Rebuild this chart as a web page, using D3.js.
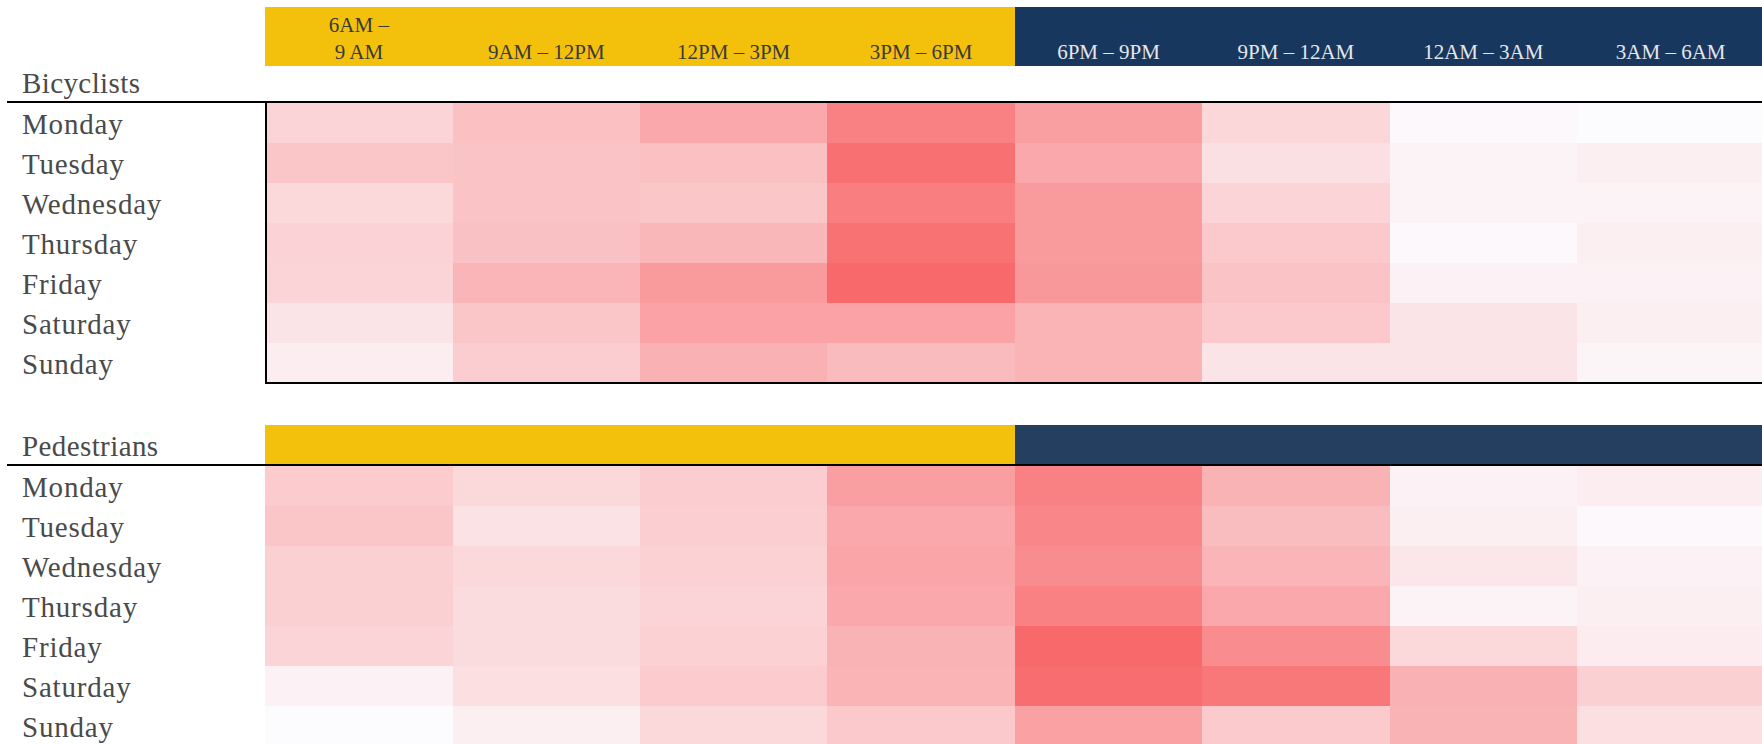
<!DOCTYPE html>
<html>
<head>
<meta charset="utf-8">
<script src="https://cdn.jsdelivr.net/npm/d3@7"></script>
<style>
	body { margin:0; background:#fff; overflow:hidden; }
	svg { display:block; }
</style>
</head>
<body>
<div id="heatmap"></div>
<script>
(function(){

var width = 1762,
	height = 744;

// time slots (columns), first one is wrapped on two lines

var slots = ["6AM – 9 AM","9AM – 12PM","12PM – 3PM","3PM – 6PM","6PM – 9PM","9PM – 12AM","12AM – 3AM","3AM – 6AM"];
var slotlines = [["6AM –","9 AM"],["9AM – 12PM"],["12PM – 3PM"],["3PM – 6PM"],["6PM – 9PM"],["9PM – 12AM"],["12AM – 3AM"],["3AM – 6AM"]];
var daytime = [true,true,true,true,false,false,false,false];

var days = ["Monday","Tuesday","Wednesday","Thursday","Friday","Saturday","Sunday"];

// relative crash intensity per day and time slot (0 = lowest, 100 = highest)

var bicyclists = [
	[27,41,57,84,63,25,3,0],
	[37,38,41,95,57,19,6,9],
	[24,38,37,86,67,27,6,6],
	[28,40,47,94,66,35,3,9],
	[27,48,67,100,68,38,7,7],
	[16,37,61,61,49,35,16,9],
	[10,32,51,44,49,16,16,5]
];

var pedestrians = [
	[33,24,32,63,84,50,7,10],
	[37,18,31,57,80,43,9,3],
	[30,24,29,59,76,48,15,7],
	[30,22,27,57,84,57,6,9],
	[27,22,29,50,100,76,24,11],
	[7,20,33,49,97,90,51,30],
	[0,9,24,35,62,34,50,20]
];

var tables = [
	{name:"Bicyclists", values:bicyclists, band:7, bandh:58.7, labels:true, box:true, line:102, yellow:"#F3C10C", navy:"#17375E"},
	{name:"Pedestrians", values:pedestrians, band:424.5, bandh:39.5, labels:false, box:false, line:465, yellow:"#F3C10C", navy:"#243F60"}
];

var x0 = 265.2,
	cw = 187.4,
	rh = 40,
	labelfont = "'Liberation Serif', 'Times New Roman', serif",
	textcolor = "#4A4A4A";

// scales

var X = d3.scaleBand().domain(slots).range([x0, x0 + cw * slots.length]);
var Y = d3.scaleBand().domain(days).range([0, rh * days.length]);
var C = d3.scaleLinear().domain([0,100]).range(["#FCFCFF","#F8696B"]).interpolate(d3.interpolateRgb);

var svg = d3.select("#heatmap").append("svg")
	.attr("width",width)
	.attr("height",height)
	.style("font-family",labelfont);

tables.forEach(function(tb){

	var top = tb.line + 1;

	// coloured header band, yellow for daytime, navy for night

	svg.selectAll(null).data(slots).enter().append("rect")
		.attr("x",function(d){return X(d)})
		.attr("y",tb.band)
		.attr("width",X.bandwidth() + 0.5)
		.attr("height",tb.bandh)
		.attr("shape-rendering","crispEdges")
		.style("fill",function(d,i){return daytime[i] ? tb.yellow : tb.navy});

	if (tb.labels) {
		var hl = svg.selectAll(null).data(slots).enter().append("text")
			.attr("text-anchor","middle")
			.attr("font-size",21)
			.style("fill",function(d,i){return daytime[i] ? "#3A3A3A" : "#E6E6EA"});
		hl.selectAll("tspan").data(function(d,i){return slotlines[i].map(function(s){return {s:s, col:d, n:slotlines[i].length}})})
			.enter().append("tspan")
			.attr("x",function(d){return X(d.col) + X.bandwidth() / 2})
			.attr("y",function(d,j){return 59.3 - (d.n - 1 - j) * 27})
			.text(function(d){return d.s});
	}

	// table title

	svg.append("text")
		.attr("x",22)
		.attr("y",tb.line - 9)
		.attr("font-size",29)
		.attr("letter-spacing",0.4)
		.style("fill",textcolor)
		.text(tb.name);

	// cells

	var g = svg.append("g").attr("transform","translate(0," + top + ")");

	var rows = g.selectAll(".row").data(tb.values).enter().append("g")
		.attr("transform",function(d,i){return "translate(0," + Y(days[i]) + ")"});

	rows.selectAll("rect").data(function(d){return d}).enter().append("rect")
		.attr("x",function(d,i){return X(slots[i])})
		.attr("y",0)
		.attr("width",X.bandwidth() + 0.5)
		.attr("height",Y.bandwidth() + 0.5)
		.attr("shape-rendering","crispEdges")
		.style("fill",function(d){return C(d)});

	// day labels

	g.selectAll(".day").data(days).enter().append("text")
		.attr("x",22)
		.attr("y",function(d){return Y(d) + Y.bandwidth() / 2 + 11})
		.attr("font-size",29)
		.attr("letter-spacing",0.8)
		.style("fill",textcolor)
		.text(function(d){return d});

	// rules

	svg.append("line")
		.attr("x1",7).attr("x2",width)
		.attr("y1",tb.line).attr("y2",tb.line)
		.style("stroke","#000").style("stroke-width",2);

	if (tb.box) {
		var bottom = top + rh * days.length;
		svg.append("line")
			.attr("x1",x0 + 0.8).attr("x2",x0 + 0.8)
			.attr("y1",tb.line).attr("y2",bottom + 1)
			.style("stroke","#000").style("stroke-width",2);
		svg.append("line")
			.attr("x1",x0).attr("x2",width)
			.attr("y1",bottom).attr("y2",bottom)
			.style("stroke","#000").style("stroke-width",2);
	}
});

})()
</script>
</body>
</html>
